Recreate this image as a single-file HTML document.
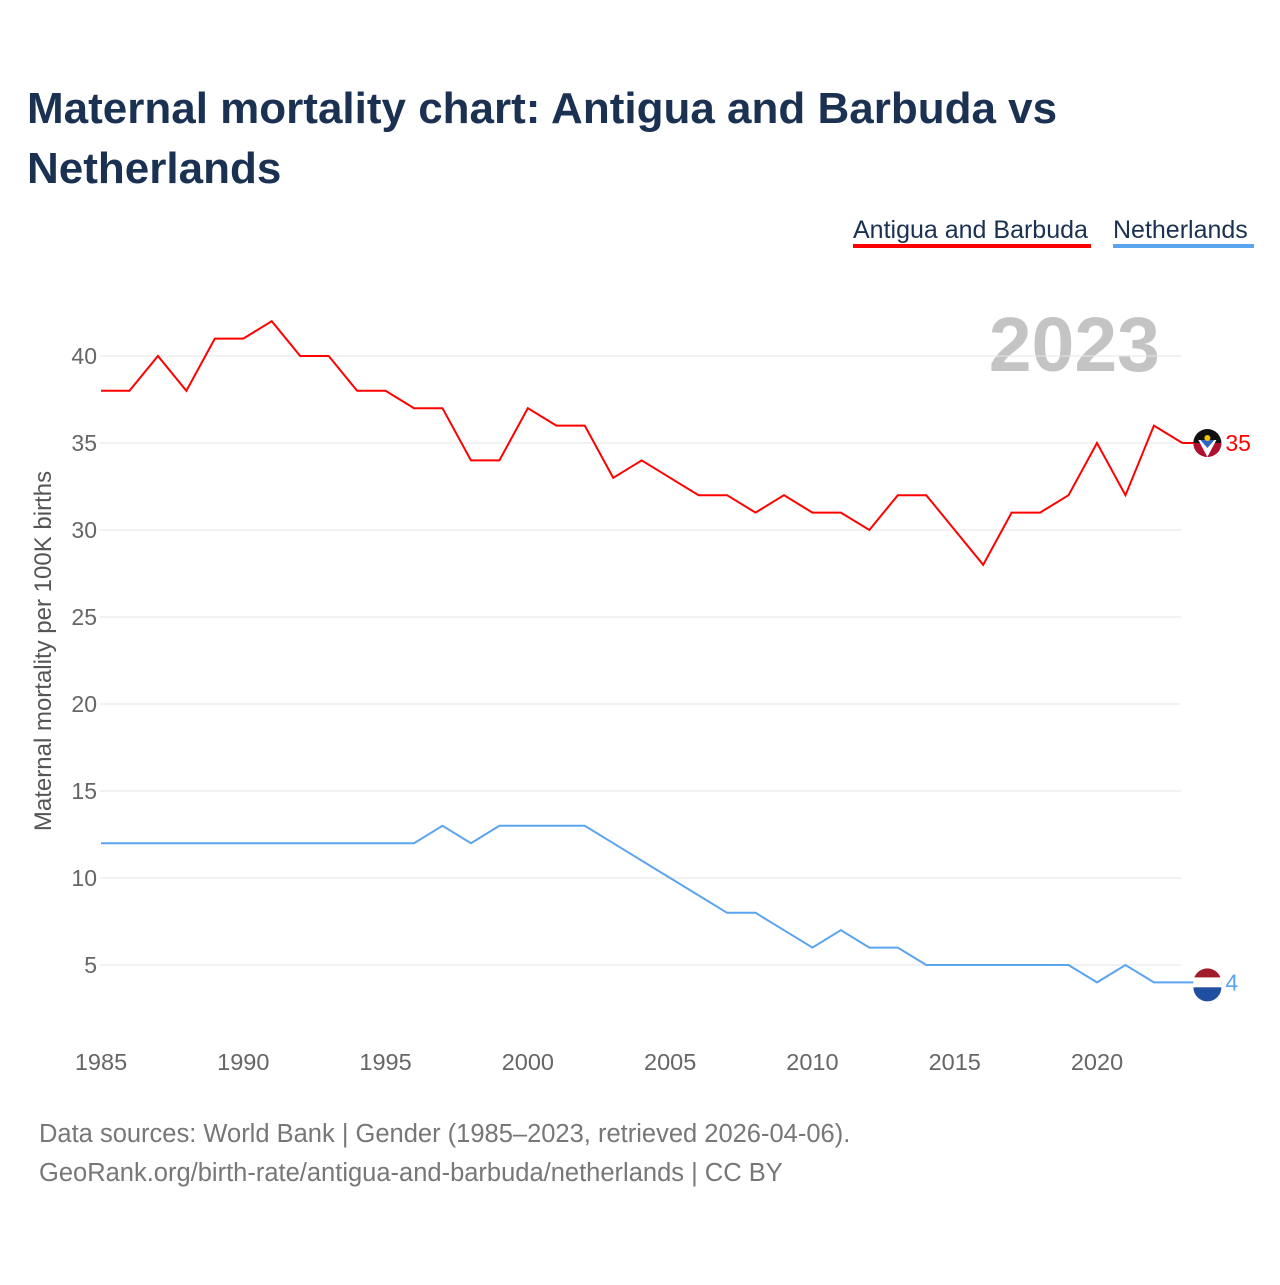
<!DOCTYPE html>
<html><head><meta charset="utf-8"><style>
body{margin:0;background:#fff;font-family:"Liberation Sans",sans-serif}
</style></head><body>
<svg width="1280" height="1280" xmlns="http://www.w3.org/2000/svg" font-family="Liberation Sans, sans-serif">
<text x="27" y="123" font-size="44" font-weight="bold" fill="#1b3152">Maternal mortality chart: Antigua and Barbuda vs</text>
<text x="27" y="183" font-size="44" font-weight="bold" fill="#1b3152">Netherlands</text>
<g>
<text x="853" y="238" font-size="25" fill="#1b3152">Antigua and Barbuda</text>
<rect x="853" y="244" width="238" height="4" fill="#ff0000"/>
<text x="1113" y="238" font-size="25" fill="#1b3152">Netherlands</text>
<rect x="1113" y="244" width="141" height="4" fill="#5ba4ef"/>
</g>
<text x="1160" y="371" font-size="77" font-weight="bold" fill="#c4c4c4" text-anchor="end">2023</text>
<g id="grid"></g><g id="xt"></g><g id="lines"></g>
<text transform="translate(51,651) rotate(-90)" font-size="24" fill="#555" text-anchor="middle">Maternal mortality per 100K births</text>
<text x="39" y="1142" font-size="25.5" fill="#777">Data sources: World Bank | Gender (1985–2023, retrieved 2026-04-06).</text>
<text x="39" y="1181" font-size="25.5" fill="#777">GeoRank.org/birth-rate/antigua-and-barbuda/netherlands | CC BY</text>
</svg>
<script>
const years=[];for(let y=1985;y<=2023;y++)years.push(y);
const antigua=[38,38,40,38,41,41,42,40,40,38,38,37,37,34,34,37,36,36,33,34,33,32,32,31,32,31,31,30,32,32,30,28,31,31,32,35,32,36,35];
const netherlands=[12,12,12,12,12,12,12,12,12,12,12,12,13,12,13,13,13,13,12,11,10,9,8,8,7,6,7,6,6,5,5,5,5,5,5,4,5,4,4];
const yTicks=[5,10,15,20,25,30,35,40];
const xTicks=[1985,1990,1995,2000,2005,2010,2015,2020];
const NS="http://www.w3.org/2000/svg";
const X=y=>101+(y-1985)*(1097-101)/35;
const Y=v=>1052-v*17.4;
function mk(t,a,p){const e=document.createElementNS(NS,t);for(const k in a)e.setAttribute(k,a[k]);p.appendChild(e);return e;}
const g=document.getElementById('grid');
yTicks.forEach(v=>{
 const l=mk('line',{x1:100,x2:1181,y1:Y(v),y2:Y(v),stroke:'#e6e6e6'},g);
 
 
 const t=mk('text',{x:97,y:Y(v)+8,'font-size':23,fill:'#666','text-anchor':'end'},g);t.textContent=v;
 
 
});
const xt=document.getElementById('xt');
xTicks.forEach(v=>{
 const t=mk('text',{x:X(v),y:1070,'font-size':23.5,fill:'#666','text-anchor':'middle'},xt);t.textContent=v;
 
 
});
const L=document.getElementById('lines');
function series(d,c,name,flagTop,flagBot,star){
 const p=mk('polyline',{points:d.map((v,i)=>X(years[i])+','+Y(v)).join(' '),fill:'none',stroke:c,'stroke-width':2},L);
 
 
 const last=d[d.length-1],cx=X(2023)+25,cy=Y(last);
 mk('line',{x1:X(2023),x2:cx-14,y1:cy,y2:cy,stroke:c,'stroke-width':2},L);
 const fg=mk('g',{},L);
 
 
 mk('circle',{cx:cx,cy:cy,r:14,fill:flagTop},fg);
 if(star){mk('path',{d:`M${cx-14} ${cy} A14 14 0 0 0 ${cx+14} ${cy} Z`,fill:'#b01030'},fg);
  mk('polygon',{points:`${cx-9},${cy-3} ${cx+9},${cy-3} ${cx},${cy+14}`,fill:'#fff'},fg);
  mk('polygon',{points:`${cx-7},${cy-3} ${cx+7},${cy-3} ${cx},${cy+5}`,fill:'#2d64c8'},fg);
  mk('circle',{cx:cx,cy:cy-5,r:3,fill:'#f5c400'},fg);}
 else{mk('rect',{x:cx-14,y:cy-5,width:28,height:10,fill:'#fff'},fg);
  mk('path',{d:`M${cx-14} ${cy+5} A14 14 0 0 0 ${cx+14} ${cy+5} Z`,fill:'#1e4fa0'},fg);}
 const t=mk('text',{x:cx+18,y:cy+8,'font-size':23,fill:c},L);t.textContent=last;
 
 
}
series(antigua,'#ff0000','antigua','#111','',true);
series(netherlands,'#5ba4ef','netherlands','#a01c2c','',false);
</script>
</body></html>
